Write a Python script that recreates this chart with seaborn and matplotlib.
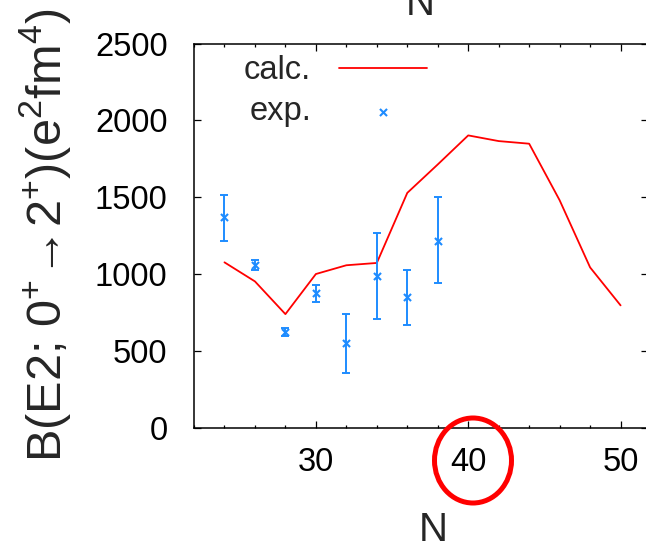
import matplotlib
matplotlib.use('Agg')
import matplotlib.pyplot as plt
from matplotlib.patches import Ellipse
from matplotlib.ticker import MultipleLocator
import numpy as np
import seaborn as sns

# calculated B(E2) curve
n_calc = [24, 26, 28, 30, 32, 34, 36, 38, 40, 42, 44, 46, 48, 50]
be2_calc = [1076, 952, 739, 1000, 1057, 1072, 1528, 1713, 1902, 1865, 1848, 1480, 1043, 796]

# experimental points with error bars
n_exp = [24, 26, 28, 30, 32, 34, 36, 38]
be2_exp = [1370, 1059, 622, 874, 550, 987, 850, 1215]
be2_lo = [1217, 1028, 596, 817, 354, 709, 667, 939]
be2_hi = [1517, 1089, 648, 930, 737, 1270, 1028, 1500]

y_ticks = [0, 500, 1000, 1500, 2000, 2500]
x_ticks = [30, 40, 50]

sns.set_style('ticks')
plt.rcParams['font.family'] = ['Liberation Sans', 'DejaVu Sans']
plt.rcParams['mathtext.fontset'] = 'custom'
plt.rcParams['mathtext.rm'] = 'Liberation Sans'
plt.rcParams['mathtext.it'] = 'Liberation Sans'

blue = '#1e8cff'

fig = plt.figure(figsize=(6.46, 5.48), dpi=100)
ax = fig.add_axes([194 / 646, 1 - 427.7 / 548, 454 / 646, 384.2 / 548])

sns.lineplot(x=n_calc, y=be2_calc, color='red', linewidth=1.3, ax=ax, label='calc.')

exp = np.array(be2_exp)
yerr = [exp - np.array(be2_lo), np.array(be2_hi) - exp]
ax.errorbar(n_exp, be2_exp, yerr=yerr, fmt='none', ecolor=blue, elinewidth=1.4,
            capsize=2.8, capthick=1.4)
sns.scatterplot(x=n_exp, y=be2_exp, marker='x', color=blue, s=26, linewidth=1.5,
                ax=ax, label='exp.', zorder=3)

ax.set_xlim(22, 51.8)
ax.set_ylim(0, 2500)
ax.set_xticks(x_ticks)
ax.xaxis.set_minor_locator(MultipleLocator(2))
ax.set_yticks(y_ticks)

for s in ax.spines.values():
    s.set_linewidth(1.1)
    s.set_color('black')
ax.tick_params(which='both', direction='in', top=True, right=True, width=0.9, colors='black')
ax.tick_params(which='major', length=5)
ax.tick_params(which='minor', length=2.5)
ax.tick_params(axis='y', which='major', labelsize=23.5, pad=19)
ax.tick_params(axis='x', which='major', labelsize=23.5, pad=14)

ax.set_ylabel('B(E2; 0$^{+}\\!\\rightarrow\\!$2$^{+}$)(e$^{2}$fm$^{4}$)', fontsize=35)
ax.yaxis.set_label_coords((73 - 194) / 454, 0.5)
ax.set_xlabel('N', fontsize=29)
ax.xaxis.label.set_va('baseline')
ax.xaxis.set_label_coords((433 - 194) / 454, -(541 - 427.7) / 384.2)

leg = ax.legend(loc='upper left', bbox_to_anchor=(0.11, 0.97), frameon=False,
                markerfirst=False, fontsize=23.5, handlelength=2.7, handletextpad=0.85,
                labelspacing=0.32, borderpad=0, borderaxespad=0)

# partial label from the panel above
fig.text(420 / 646, 1 - 15 / 548, 'N', ha='center', va='baseline', fontsize=29)

# red circle around N = 40
fig.add_artist(Ellipse((473 / 646, 1 - 460.5 / 548), width=77 / 646, height=85 / 548,
                       transform=fig.transFigure, fill=False, edgecolor='red', linewidth=3.6))

plt.savefig('out.png', dpi=100)
